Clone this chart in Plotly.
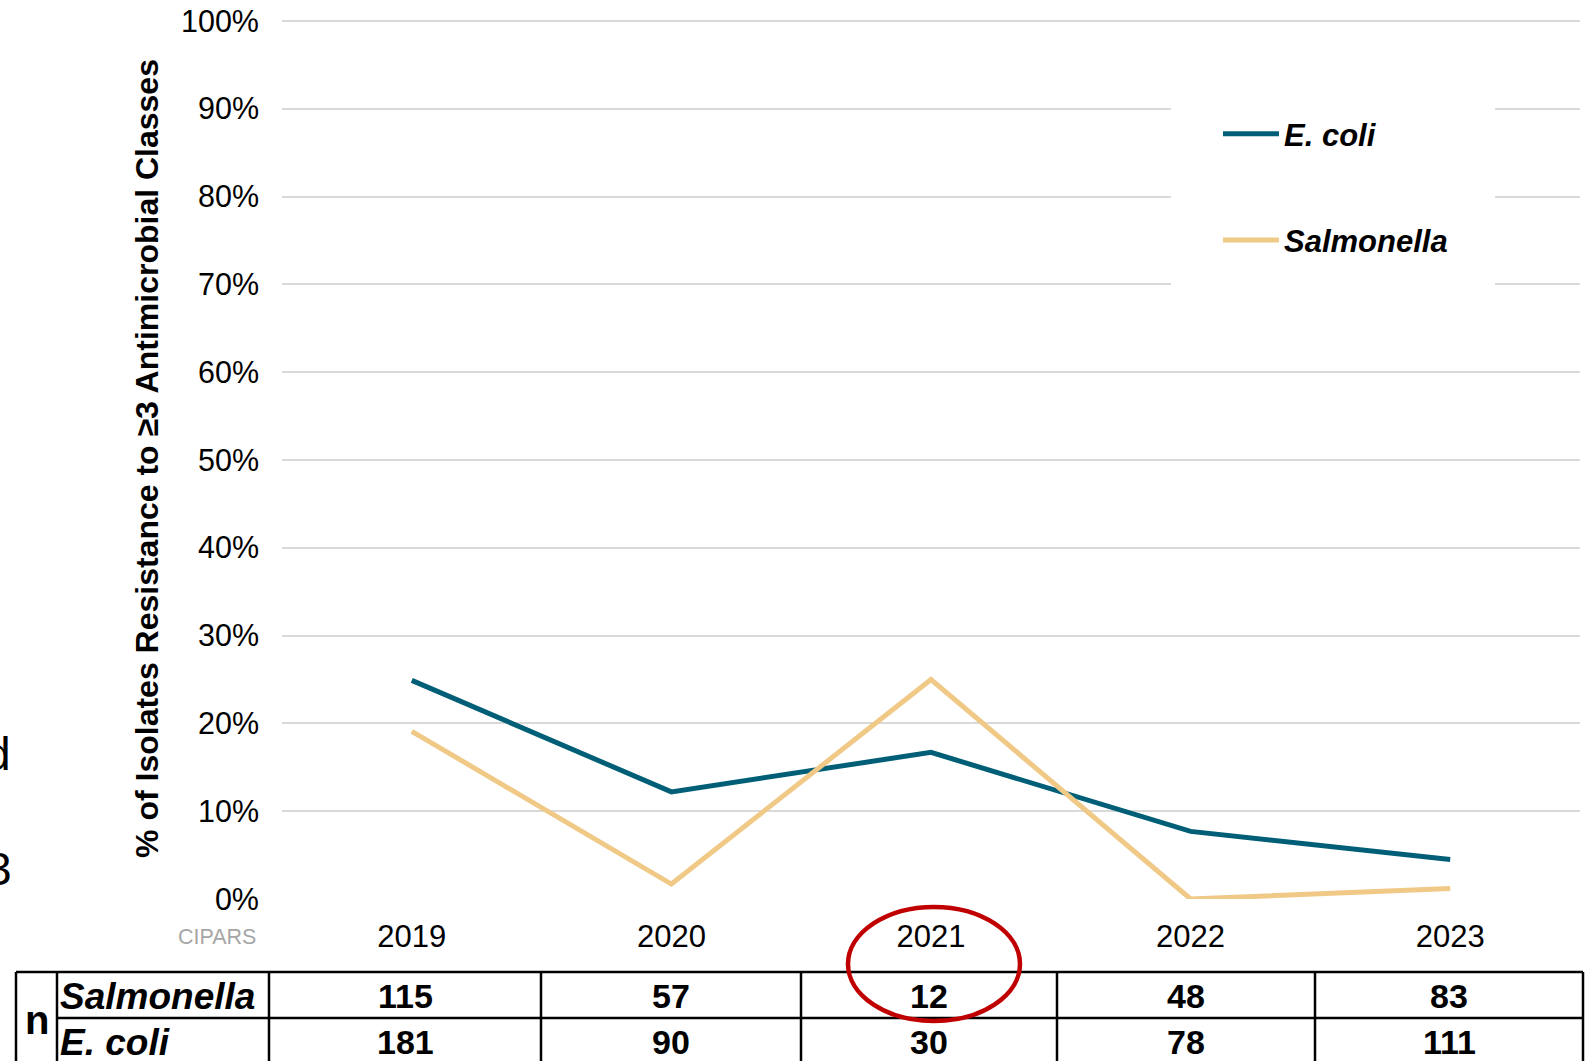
import plotly.graph_objects as go

# ---- data -------------------------------------------------------------
years = ["2019", "2020", "2021", "2022", "2023"]
ecoli_pct = [24.9, 12.2, 16.7, 7.7, 4.5]
salmonella_pct = [19.1, 1.7, 25.0, 0.0, 1.2]
salmonella_n = [115, 57, 12, 48, 83]
ecoli_n = [181, 90, 30, 78, 111]
y_tick_vals = [0, 10, 20, 30, 40, 50, 60, 70, 80, 90, 100]
y_tick_text = [f"{v}%" for v in y_tick_vals]

# ---- style ------------------------------------------------------------
ECOLI_COLOR = "#005F77"
SALMONELLA_COLOR = "#F0C987"
GRID_COLOR = "#D9D9D9"
FONT = "Arial, 'Liberation Sans', sans-serif"

W, H = 1593, 1061
M_L, M_R, M_T, M_B = 282, 13, 18, 162
PLOT_W = W - M_L - M_R
PLOT_H = H - M_T - M_B
# a little headroom above 100% so its gridline is kept inside the plot
Y_TOP = 100 * PLOT_H / (PLOT_H - 3)


def px(x):
    """Pixel x (from left) to paper x."""
    return (x - M_L) / PLOT_W


def py(y):
    """Pixel y (from top) to paper y."""
    return (H - M_B - y) / PLOT_H


fig = go.Figure()
fig.add_trace(go.Scatter(
    x=years, y=ecoli_pct, mode="lines", name="E. coli",
    legendgroup="ecoli",
    line=dict(color=ECOLI_COLOR, width=5),
))
fig.add_trace(go.Scatter(
    x=years, y=salmonella_pct, mode="lines", name="Salmonella",
    legendgroup="salmonella",
    line=dict(color=SALMONELLA_COLOR, width=5),
))

shapes = []
annotations = []

# white panel behind the legend (interrupts the gridlines)
shapes.append(dict(
    type="rect", xref="paper", yref="paper",
    x0=px(1171), x1=px(1495), y0=py(300), y1=py(95),
    fillcolor="white", line=dict(width=0), layer="above",
))

# ---- sample-size table under the chart --------------------------------
col_edges = [16, 57, 269, 541, 801, 1057, 1315, 1583]
row_edges = [972, 1018, 1064]
TABLE_LINE = dict(color="black", width=2.5)

shapes.append(dict(type="line", xref="paper", yref="paper",
                   x0=px(col_edges[0]), x1=px(col_edges[-1]),
                   y0=py(row_edges[0]), y1=py(row_edges[0]), line=TABLE_LINE))
shapes.append(dict(type="line", xref="paper", yref="paper",
                   x0=px(col_edges[1]), x1=px(col_edges[-1]),
                   y0=py(row_edges[1]), y1=py(row_edges[1]), line=TABLE_LINE))
shapes.append(dict(type="line", xref="paper", yref="paper",
                   x0=px(col_edges[0]), x1=px(col_edges[-1]),
                   y0=py(row_edges[2]), y1=py(row_edges[2]), line=TABLE_LINE))
for cx in col_edges:
    shapes.append(dict(type="line", xref="paper", yref="paper",
                       x0=px(cx), x1=px(cx),
                       y0=py(row_edges[0]), y1=py(row_edges[2]),
                       line=TABLE_LINE))

row_mid = [(row_edges[0] + row_edges[1]) / 2 + 1,
           (row_edges[1] + row_edges[2]) / 2 + 1]

annotations.append(dict(
    text="<b>n</b>", xref="paper", yref="paper",
    x=px((col_edges[0] + col_edges[1]) / 2), y=py(1020),
    xanchor="center", yanchor="middle", showarrow=False,
    font=dict(family=FONT, size=40, color="black"),
))
for label, ry in (("Salmonella", row_mid[0]), ("E. coli", row_mid[1])):
    annotations.append(dict(
        text=f"<b><i>{label}</i></b>", xref="paper", yref="paper",
        x=px(col_edges[1] + 1), y=py(ry),
        xanchor="left", yanchor="middle", showarrow=False,
        font=dict(family=FONT, size=37, color="black"),
    ))
for i in range(len(years)):
    cx = (col_edges[i + 2] + col_edges[i + 3]) / 2
    for vals, ry in ((salmonella_n, row_mid[0]), (ecoli_n, row_mid[1])):
        annotations.append(dict(
            text=f"<b>{vals[i]}</b>", xref="paper", yref="paper",
            x=px(cx), y=py(ry),
            xanchor="center", yanchor="middle", showarrow=False,
            font=dict(family=FONT, size=34, color="black"),
        ))

# red highlight around the 2021 column
shapes.append(dict(
    type="circle", xref="paper", yref="paper",
    x0=px(848), x1=px(1020), y0=py(1021), y1=py(907),
    line=dict(color="#C00000", width=4.5), layer="above",
))

# source tag
annotations.append(dict(
    text="CIPARS", xref="paper", yref="paper",
    x=px(217), y=py(937), xanchor="center", yanchor="middle",
    showarrow=False, font=dict(family=FONT, size=21.5, color="#A6A6A6"),
))

# slide text cut off at the left edge
annotations.append(dict(
    text="d", xref="paper", yref="paper", x=px(13), y=py(754),
    xanchor="right", yanchor="middle", showarrow=False,
    font=dict(family=FONT, size=46, color="black"),
))
annotations.append(dict(
    text="3", xref="paper", yref="paper", x=px(14), y=py(869),
    xanchor="right", yanchor="middle", showarrow=False,
    font=dict(family=FONT, size=46, color="black"),
))

fig.update_layout(
    width=W, height=H,
    margin=dict(l=M_L, r=M_R, t=M_T, b=M_B, autoexpand=False),
    paper_bgcolor="white", plot_bgcolor="white",
    font=dict(family=FONT, color="black"),
    showlegend=True,
    legend=dict(
        x=px(1218), y=py(107), xanchor="left", yanchor="top",
        bgcolor="rgba(0,0,0,0)", borderwidth=0,
        traceorder="grouped", tracegroupgap=63, itemwidth=56,
        font=dict(family=FONT, size=31, color="black",
                  weight="bold", style="italic"),
    ),
    xaxis=dict(
        type="category", range=[-0.5, len(years) - 0.5],
        showgrid=False, showline=False, zeroline=False,
        ticks="", ticklabelstandoff=16,
        tickfont=dict(family=FONT, size=31, color="black"),
    ),
    yaxis=dict(
        range=[0, Y_TOP], tickvals=y_tick_vals, ticktext=y_tick_text,
        showgrid=True, gridcolor=GRID_COLOR, gridwidth=2,
        zeroline=False, showline=False, ticks="", ticklabelstandoff=22,
        tickfont=dict(family=FONT, size=30.5, color="black"),
        title=dict(
            text="% of Isolates Resistance to ≥3 Antimicrobial Classes",
            font=dict(family=FONT, size=32, color="black", weight="bold"),
            standoff=12,
        ),
    ),
    shapes=shapes,
    annotations=annotations,
)

fig.write_html("out.html")
